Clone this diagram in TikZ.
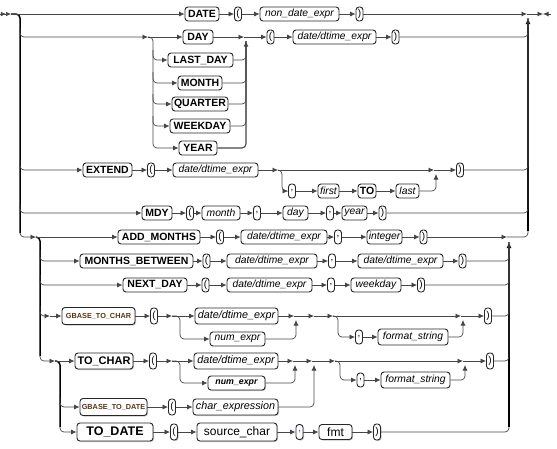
\documentclass[tikz,border=0pt]{standalone}
\usepackage{fontspec}
\setmainfont{Liberation Sans}
\usetikzlibrary{arrows.meta, shadows}

\definecolor{railgray}{RGB}{70,70,70}
\definecolor{gbasetxt}{RGB}{85,55,20}
\definecolor{commablue}{RGB}{30,90,200}

\tikzstyle{box} = [rectangle, rounded corners=3pt, draw=black!85, line width=0.9pt, fill=white, minimum height=14pt, inner sep=1.5pt]
\tikzstyle{kw} = [box, font=\fontsize{10.5}{12}\selectfont\bfseries]
\tikzstyle{var} = [box, font=\fontsize{10.3}{12}\selectfont\itshape]
\tikzstyle{sym} = [box, minimum width=7pt, font=\fontsize{10}{12}\selectfont]
\tikzstyle{raised} = [drop shadow={shadow xshift=1pt, shadow yshift=-1pt, opacity=0.45}]
\tikzstyle{rail} = [draw=railgray, line width=0.7pt, rounded corners=4pt]
\tikzstyle{arrow} = [rail, -{Latex[length=5.5pt,width=5pt]}]
\tikzstyle{trunk} = [draw=black, line width=1.5pt, rounded corners=4pt]
\tikzstyle{uparrow} = [trunk, -{Latex[length=6pt,width=5pt]}]

\begin{document}
\begin{tikzpicture}[x=1pt, y=-1pt,
  gbase/.style={box, raised, minimum height=17pt, font=\fontsize{7.3}{8}\selectfont\bfseries, text=gbasetxt},
  bigvar/.style={var, raised, font=\fontsize{10.8}{12}\selectfont\itshape}
]
\useasboundingbox (0,0) rectangle (557,448);

% DATE
\node (date) [kw, minimum width=34] at (202,14) {DATE};
\node (lp1) [sym] at (238,14) {(};
\node (nde) [var, minimum width=79] at (299.5,14) {non\_date\_expr};
\node (rp1) [sym] at (359.5,14) {)};

% DAY and friends
\node (day) [kw, minimum width=30] at (198,37) {DAY};
\node (lastday) [kw, minimum width=65] at (200.5,60) {LAST\_DAY};
\node (month) [kw, minimum width=44] at (200,83) {MONTH};
\node (quarter) [kw, minimum width=56] at (200,104) {QUARTER};
\node (weekday) [kw, minimum width=60] at (200,126) {WEEKDAY};
\node (year) [kw, minimum width=38] at (198,148) {YEAR};
\node (lp2) [sym] at (270.5,37) {(};
\node (dte2) [var, minimum width=83] at (334.5,37) {date/dtime\_expr};
\node (rp2) [sym] at (395.5,37) {)};

% EXTEND
\node (extend) [kw, minimum width=49] at (107.5,170) {EXTEND};
\node (lp3) [sym] at (151,170) {(};
\node (dte3) [var, minimum width=85] at (215.5,170) {date/dtime\_expr};
\node (comma3) [sym] at (292,191) {,};
\node (first) [var, minimum width=21] at (328.5,191) {first};
\node (to) [kw, minimum width=18] at (367,191) {TO};
\node (last) [var, minimum width=23] at (407.5,191) {last};
\node (rp3) [sym] at (460,170) {)};

% MDY
\node (mdy) [kw, minimum width=30] at (157,213) {MDY};
\node (lp4) [sym] at (190,213) {(};
\node (month4) [var, minimum width=38] at (221,213) {month};
\node (comma4a) [sym] at (257,213) {,};
\node (day4) [var, minimum width=25] at (295.5,213) {day};
\node (comma4b) [sym] at (330,213) {,};
\node (year4) [var, minimum width=25] at (354.5,213) {year};
\node (rp4) [sym] at (382.5,213) {)};

% ADD_MONTHS
\node (addm) [kw, minimum width=82] at (159,237) {ADD\_MONTHS};
\node (lp5) [sym] at (220,237) {(};
\node (dte5) [var, minimum width=86] at (284,237) {date/dtime\_expr};
\node (comma5) [sym] at (338,237) {,};
\node (integer) [var, minimum width=35] at (384.5,237) {integer};
\node (rp5) [sym] at (423.5,237) {)};

% MONTHS_BETWEEN
\node (mb) [kw, minimum width=113] at (136.5,261) {MONTHS\_BETWEEN};
\node (lp6) [sym] at (206.5,261) {(};
\node (dte6a) [var, minimum width=90] at (272,261) {date/dtime\_expr};
\node (comma6) [sym] at (332,261) {,};
\node (dte6b) [var, minimum width=85] at (400.5,261) {date/dtime\_expr};
\node (rp6) [sym] at (462.5,261) {)};

% NEXT_DAY
\node (nd) [kw, minimum width=64] at (155,285) {NEXT\_DAY};
\node (lp7) [sym] at (205.5,285) {(};
\node (dte7) [var, minimum width=85] at (269.5,285) {date/dtime\_expr};
\node (comma7) [sym] at (331,285) {,};
\node (weekday7) [var, minimum width=50] at (376,285) {weekday};
\node (rp7) [sym] at (421,285) {)};

% GBASE_TO_CHAR
\node (gtc) [gbase, minimum width=73] at (98.5,316) {GBASE\_TO\_CHAR};
\node (lp8) [sym, minimum height=16] at (154,316) {(};
\node (dte8) [var, minimum width=83, minimum height=16, font=\fontsize{10.8}{12}\selectfont\itshape] at (236.5,316) {date/dtime\_expr};
\node (num8) [var, minimum width=55] at (237.5,339) {num\_expr};
\node (comma8) [sym] at (359,337) {,};
\node (fmt8) [var, minimum width=70, minimum height=16] at (413,337) {format\_string};
\node (rp8) [sym, minimum height=16] at (488,316) {)};

% TO_CHAR
\node (tc) [kw, raised, minimum width=58, minimum height=16, font=\fontsize{11}{13}\selectfont\bfseries] at (104,361) {TO\_CHAR};
\node (lp9) [sym, minimum height=16] at (153,361) {(};
\node (dte9) [var, minimum width=84, minimum height=16, font=\fontsize{10.8}{12}\selectfont\itshape] at (236,361) {date/dtime\_expr};
\node (num9) [var, raised, minimum width=57, font=\fontsize{8.8}{10}\selectfont\bfseries\itshape] at (236.5,383) {num\_expr};
\node (comma9) [sym] at (360.5,380) {,};
\node (fmt9) [var, minimum width=69, minimum height=16] at (415.5,380) {format\_string};
\node (rp9) [sym, minimum height=16] at (490,361) {)};

% GBASE_TO_DATE
\node (gtd) [gbase, minimum width=67] at (113.5,407) {GBASE\_TO\_DATE};
\node (lp10) [sym, minimum height=16] at (172,407) {(};
\node (ce) [bigvar, minimum width=85, minimum height=16] at (235.5,407) {char\_expression};

% TO_DATE
\node (td) [kw, raised, minimum width=76, minimum height=18, font=\fontsize{12.5}{14}\selectfont\bfseries] at (115,432) {TO\_DATE};
\node (lp11) [sym, raised, minimum height=16] at (174,432) {(};
\node (sc) [box, raised, minimum width=80, minimum height=18, font=\fontsize{12}{14}\selectfont] at (237,432) {source\_char};
\node (comma11) [sym, raised, minimum height=15, text=commablue] at (299.5,432) {,};
\node (fmt11) [box, raised, minimum width=33, minimum height=15, font=\fontsize{12}{14}\selectfont] at (335.5,432) {fmt};
\node (rp11) [sym, raised, minimum height=16] at (377,432) {)};

% junctions
\coordinate (st) at (0,14);
\coordinate (s1) at (11,14);
\coordinate (lb) at (20,233);
\coordinate (aj) at (36,237);
\coordinate (t2e) at (40,356);
\coordinate (tj) at (55,361);
\coordinate (t3e) at (60,427);
\coordinate (t1a) at (20,28);
\coordinate (t1b) at (20,160);
\coordinate (t1c) at (20,204);
\coordinate (t2a) at (40,250);
\coordinate (t2b) at (40,275);
\coordinate (t2c) at (40,306);
\coordinate (t3a) at (60,398);
\coordinate (rj) at (527,14);
\coordinate (en) at (543,14);
\coordinate (ee) at (551,14);
\coordinate (rb) at (528,231);
\coordinate (rt) at (528,18);
\coordinate (ib) at (509,427);
\coordinate (it) at (509,242);
\coordinate (aj2) at (507,237);
\coordinate (dj) at (148,37);
\coordinate (cl1) at (153,50);
\coordinate (cl2) at (153,72);
\coordinate (cl3) at (153,94);
\coordinate (cl4) at (153,116);
\coordinate (cl5) at (153,138);
\coordinate (cr) at (246,41);
\coordinate (dm) at (244,37);
\coordinate (xs) at (278,170);
\coordinate (xk) at (282,180);
\coordinate (xj) at (434,170);
\coordinate (xm) at (436,174);
\coordinate (gj) at (50,316);
\coordinate (gs) at (172,316);
\coordinate (gk) at (180,328);
\coordinate (gj1) at (294,316);
\coordinate (gm) at (296,320);
\coordinate (gj2) at (314,316);
\coordinate (gs2) at (333,316);
\coordinate (gk2) at (338,327);
\coordinate (gj3) at (461,316);
\coordinate (gm2) at (463,320);
\coordinate (ts) at (172,361);
\coordinate (tk) at (180,372);
\coordinate (tj1) at (293,361);
\coordinate (tm) at (295,365);
\coordinate (tj2) at (312,361);
\coordinate (tm3) at (314,365);
\coordinate (ts2) at (335,361);
\coordinate (tk2) at (340,371);
\coordinate (tj3) at (463,361);
\coordinate (tm2) at (465,365);

% trunks
\draw [rail, -{Latex[length=5pt,width=4.5pt]Latex[length=5pt,width=4.5pt]}] (st) -- (s1);
\draw [trunk] (s1) -| (lb);
\draw [arrow] (lb) |- (aj);
\draw [trunk] (aj) -| (t2e);
\draw [arrow] (t2e) |- (tj);
\draw [trunk] (tj) -| (t3e);
\draw [uparrow] (rb) -- (rt);
\draw [uparrow] (ib) -- (it);
\draw [arrow] (rj) -- (en);
\draw [arrow] (ee) -- (en);

% DATE row
\draw [arrow] (s1) -- (date);
\draw [arrow] (date) -- (lp1);
\draw [arrow] (lp1) -- (nde);
\draw [arrow] (nde) -- (rp1);
\draw [arrow] (rp1) -- (rj);

% DAY row
\draw [arrow] (t1a) |- (dj);
\draw [arrow] (dj) -- (day);
\draw [rail] (dj) -| (cl5);
\draw [arrow] (cl1) |- (lastday);
\draw [arrow] (cl2) |- (month);
\draw [arrow] (cl3) |- (quarter);
\draw [arrow] (cl4) |- (weekday);
\draw [arrow] (cl5) |- (year);
\draw [rail] (lastday) -| (cr);
\draw [rail] (month) -| (cr);
\draw [rail] (quarter) -| (cr);
\draw [rail] (weekday) -| (cr);
\draw [arrow, line width=1.1pt] (year) -| (cr);
\draw [arrow] (day) -- (dm);
\draw [arrow] (dm) -- (lp2);
\draw [arrow] (lp2) -- (dte2);
\draw [arrow] (dte2) -- (rp2);
\draw [rail] (rp2) -| (rt);

% EXTEND row
\draw [arrow] (t1b) |- (extend);
\draw [arrow] (extend) -- (lp3);
\draw [arrow] (lp3) -- (dte3);
\draw [arrow] (dte3) -- (xs);
\draw [arrow] (xs) -| (xk) |- (comma3);
\draw [arrow] (comma3) -- (first);
\draw [arrow] (first) -- (to);
\draw [arrow] (to) -- (last);
\draw [arrow] (last) -| (xm);
\draw [arrow] (xs) -- (xj);
\draw [arrow] (xj) -- (rp3);
\draw [rail] (rp3) -| (rt);

% MDY row
\draw [arrow] (t1c) |- (mdy);
\draw [arrow] (mdy) -- (lp4);
\draw [arrow] (lp4) -- (month4);
\draw [arrow] (month4) -- (comma4a);
\draw [arrow] (comma4a) -- (day4);
\draw [arrow] (day4) -- (comma4b);
\draw [arrow] (comma4b) -- (year4);
\draw [arrow] (year4) -- (rp4);
\draw [rail] (rp4) -| (rt);

% ADD_MONTHS row
\draw [arrow] (aj) -- (addm);
\draw [arrow] (addm) -- (lp5);
\draw [arrow] (lp5) -- (dte5);
\draw [arrow] (dte5) -- (comma5);
\draw [arrow] (comma5) -- (integer);
\draw [arrow] (integer) -- (rp5);
\draw [arrow] (rp5) -- (aj2);
\draw [rail] (aj2) -| (rb);

% MONTHS_BETWEEN row
\draw [arrow] (t2a) |- (mb);
\draw [arrow] (mb) -- (lp6);
\draw [arrow] (lp6) -- (dte6a);
\draw [arrow] (dte6a) -- (comma6);
\draw [arrow] (comma6) -- (dte6b);
\draw [arrow] (dte6b) -- (rp6);
\draw [rail] (rp6) -| (it);

% NEXT_DAY row
\draw [arrow] (t2b) |- (nd);
\draw [arrow] (nd) -- (lp7);
\draw [arrow] (lp7) -- (dte7);
\draw [arrow] (dte7) -- (comma7);
\draw [arrow] (comma7) -- (weekday7);
\draw [arrow] (weekday7) -- (rp7);
\draw [rail] (rp7) -| (it);

% GBASE_TO_CHAR row
\draw [arrow] (t2c) |- (gj);
\draw [arrow] (gj) -- (gtc);
\draw [arrow] (gtc) -- (lp8);
\draw [arrow] (lp8) -- (gs);
\draw [arrow] (gs) -- (dte8);
\draw [arrow] (gs) -| (gk) |- (num8);
\draw [arrow] (num8) -| (gm);
\draw [arrow] (dte8) -- (gj1);
\draw [arrow] (gj1) -- (gj2);
\draw [arrow] (gj2) -- (gs2);
\draw [arrow] (gs2) -| (gk2) |- (comma8);
\draw [arrow] (comma8) -- (fmt8);
\draw [arrow] (fmt8) -| (gm2);
\draw [arrow] (gs2) -- (gj3);
\draw [arrow] (gj3) -- (rp8);
\draw [rail] (rp8) -| (it);

% TO_CHAR row
\draw [arrow] (tj) -- (tc);
\draw [arrow] (tc) -- (lp9);
\draw [arrow] (lp9) -- (ts);
\draw [arrow] (ts) -- (dte9);
\draw [arrow] (ts) -| (tk) |- (num9);
\draw [arrow] (num9) -| (tm);
\draw [arrow] (dte9) -- (tj1);
\draw [arrow] (tj1) -- (tj2);
\draw [arrow] (tj2) -- (ts2);
\draw [arrow] (ts2) -| (tk2) |- (comma9);
\draw [arrow] (comma9) -- (fmt9);
\draw [arrow] (fmt9) -| (tm2);
\draw [arrow] (ts2) -- (tj3);
\draw [arrow] (tj3) -- (rp9);
\draw [rail] (rp9) -| (it);

% GBASE_TO_DATE row
\draw [arrow] (t3a) |- (gtd);
\draw [arrow] (gtd) -- (lp10);
\draw [arrow] (lp10) -- (ce);
\draw [arrow] (ce) -| (tm3);

% TO_DATE row
\draw [arrow] (t3e) |- (td);
\draw [arrow] (td) -- (lp11);
\draw [arrow] (lp11) -- (sc);
\draw [arrow] (sc) -- (comma11);
\draw [arrow] (comma11) -- (fmt11);
\draw [arrow] (fmt11) -- (rp11);
\draw [rail] (rp11) -| (ib);

\end{tikzpicture}
\end{document}
